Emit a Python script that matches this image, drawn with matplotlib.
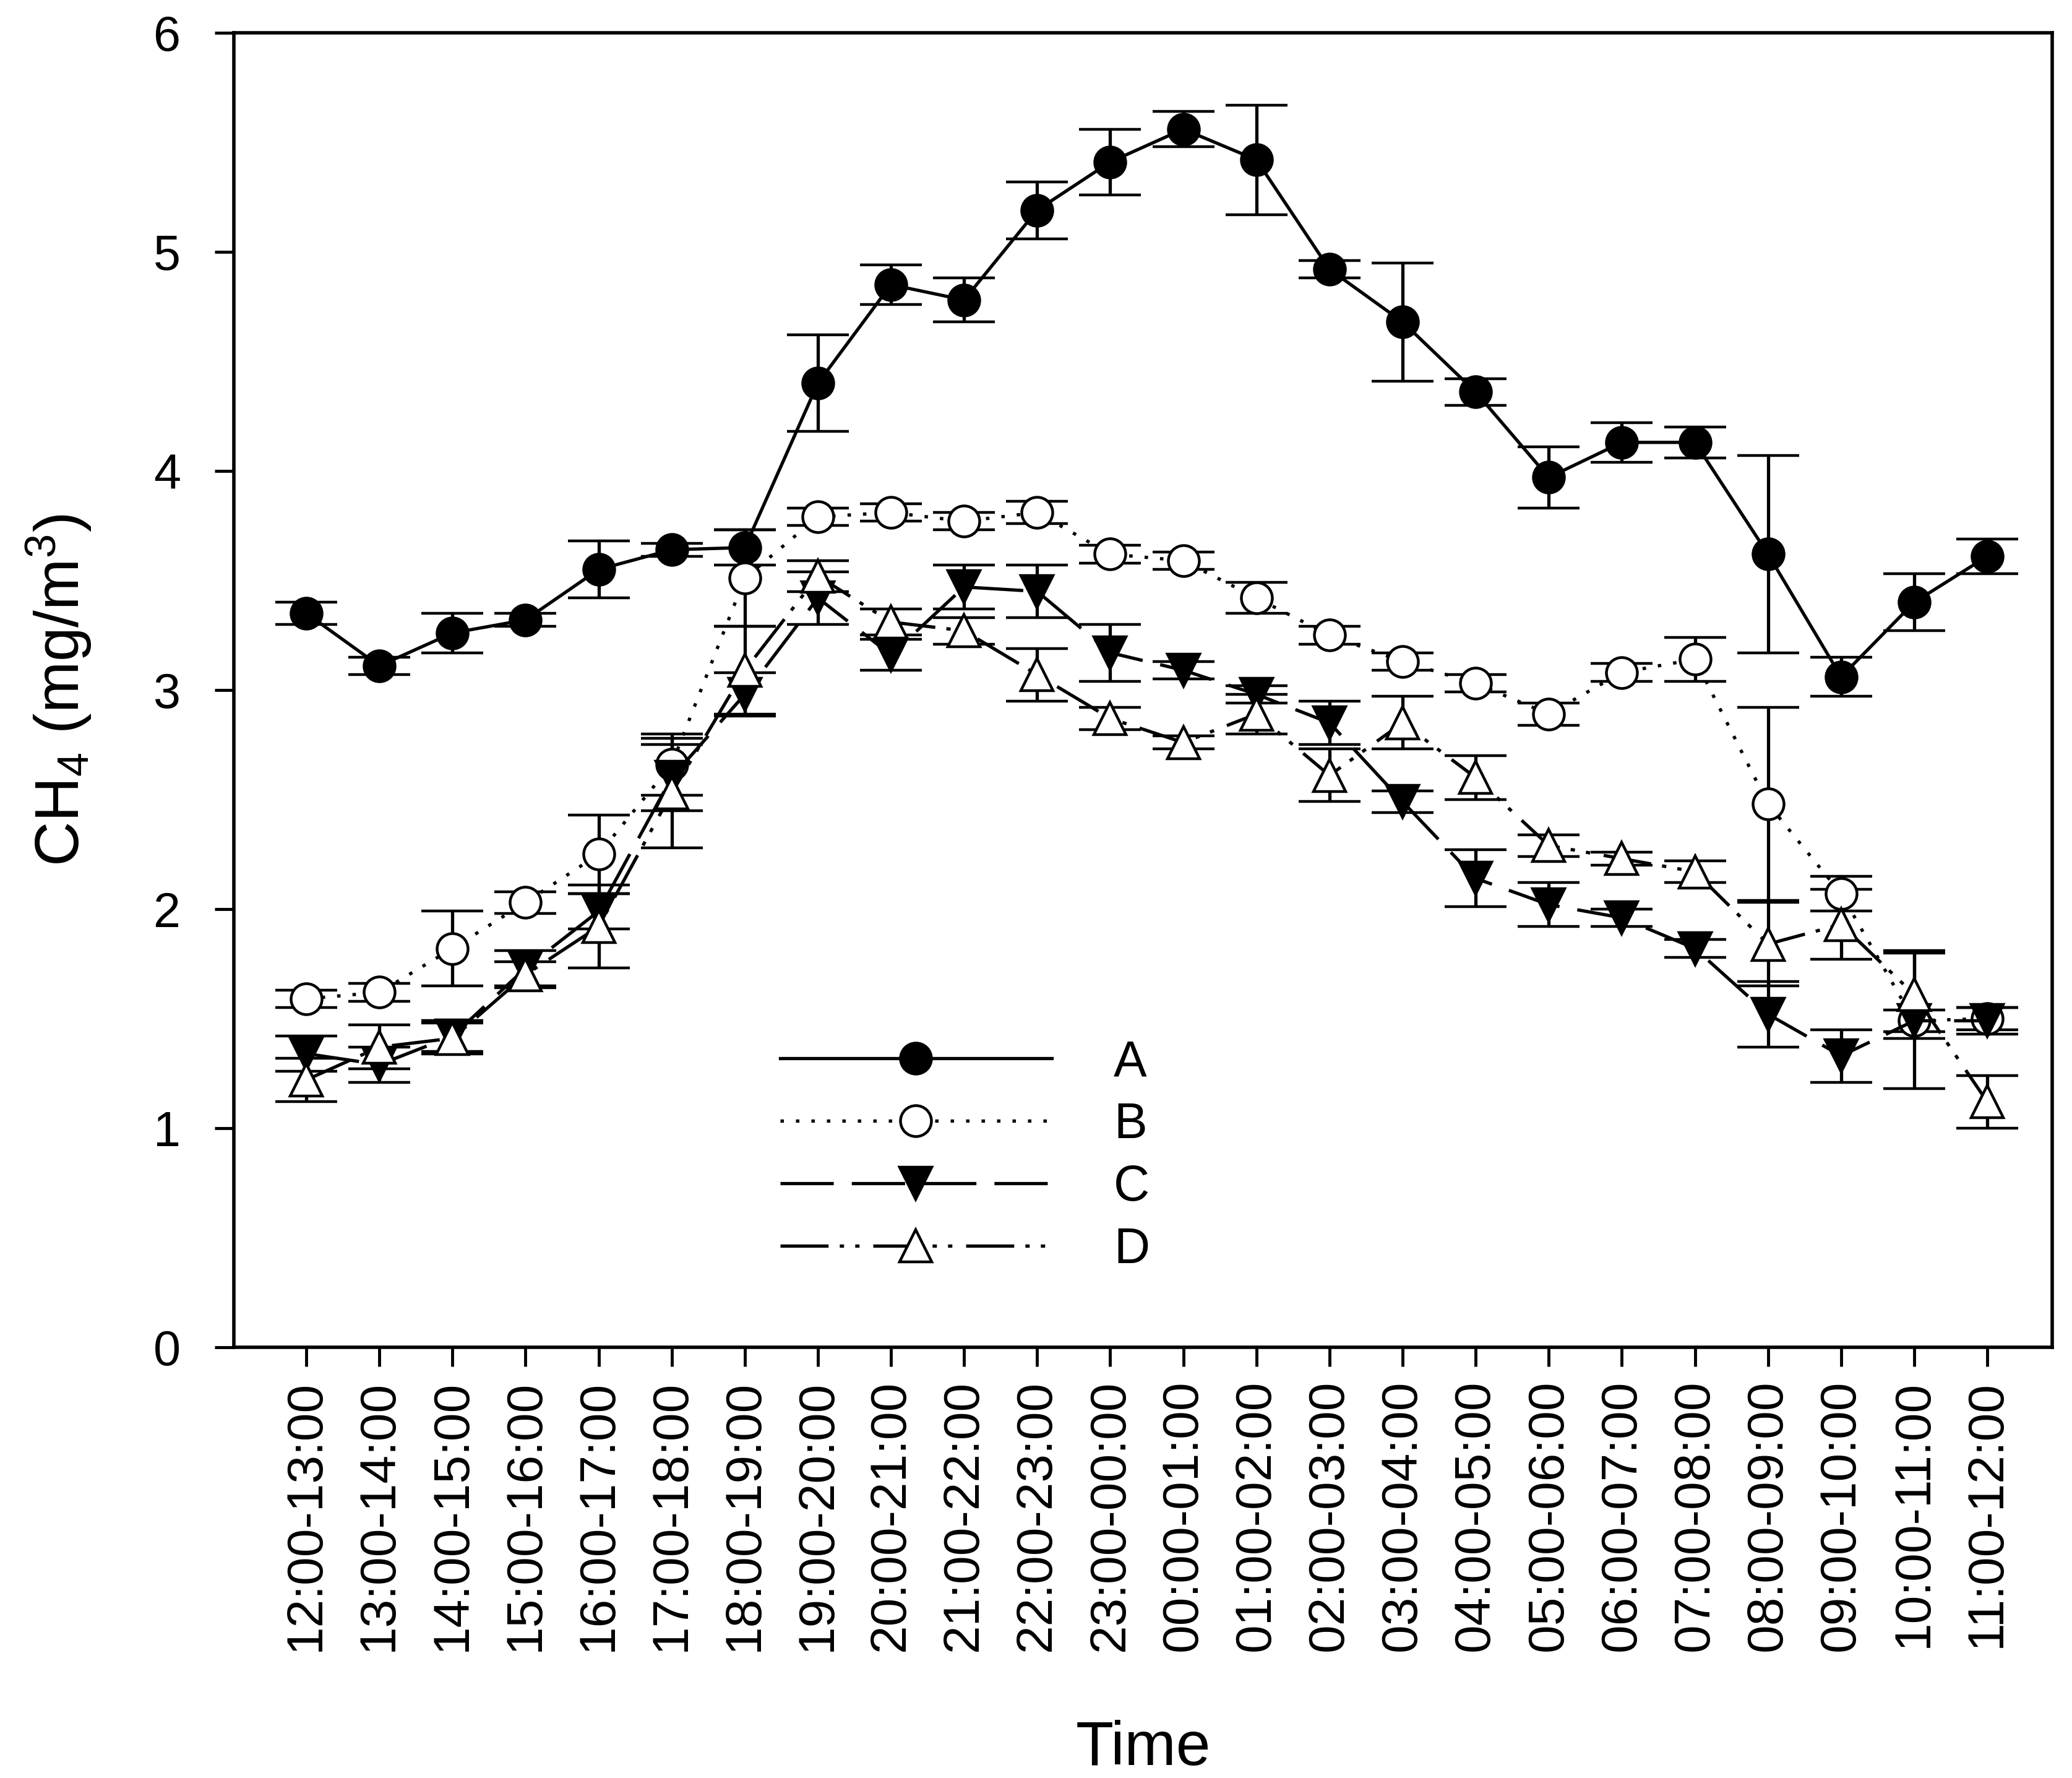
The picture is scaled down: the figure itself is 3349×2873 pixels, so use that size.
import matplotlib
matplotlib.use("Agg")
import matplotlib.pyplot as plt
from matplotlib.lines import Line2D
import numpy as np

plt.rcParams['font.family'] = ['Liberation Sans', 'DejaVu Sans']
plt.rcParams['mathtext.default'] = 'regular'
plt.rcParams['lines.scale_dashes'] = False

time_labels = ["12:00-13:00", "13:00-14:00", "14:00-15:00", "15:00-16:00", "16:00-17:00",
               "17:00-18:00", "18:00-19:00", "19:00-20:00", "20:00-21:00", "21:00-22:00",
               "22:00-23:00", "23:00-00:00", "00:00-01:00", "01:00-02:00", "02:00-03:00",
               "03:00-04:00", "04:00-05:00", "05:00-06:00", "06:00-07:00", "07:00-08:00",
               "08:00-09:00", "09:00-10:00", "10:00-11:00", "11:00-12:00"]

A = [3.35, 3.11, 3.26, 3.32, 3.55, 3.64, 3.65, 4.40, 4.85, 4.78, 5.19, 5.41,
     5.56, 5.42, 4.92, 4.68, 4.36, 3.97, 4.13, 4.13, 3.62, 3.06, 3.40, 3.61]
A_err = [0.05, 0.04, 0.09, 0.03, 0.13, 0.03, 0.08, 0.22, 0.09, 0.10, 0.13, 0.15,
         0.08, 0.25, 0.04, 0.27, 0.06, 0.14, 0.09, 0.07, 0.45, 0.09, 0.13, 0.08]
B = [1.59, 1.62, 1.82, 2.03, 2.25, 2.66, 3.51, 3.79, 3.81, 3.77, 3.81, 3.62,
     3.59, 3.42, 3.25, 3.13, 3.03, 2.89, 3.08, 3.14, 2.48, 2.07, 1.49, 1.50]
B_err = [0.04, 0.04, 0.17, 0.05, 0.18, 0.14, 0.22, 0.04, 0.04, 0.04, 0.05, 0.04,
         0.04, 0.07, 0.04, 0.04, 0.04, 0.05, 0.04, 0.10, 0.44, 0.08, 0.31, 0.05]
C = [1.34, 1.29, 1.42, 1.73, 1.99, 2.60, 2.98, 3.42, 3.16, 3.47, 3.45, 3.17,
     3.09, 2.98, 2.85, 2.49, 2.14, 2.02, 1.96, 1.82, 1.52, 1.33, 1.49, 1.49]
C_err = [0.08, 0.08, 0.07, 0.08, 0.08, 0.15, 0.10, 0.12, 0.07, 0.10, 0.12, 0.13,
         0.04, 0.04, 0.10, 0.05, 0.13, 0.10, 0.04, 0.04, 0.15, 0.12, 0.05, 0.06]
D = [1.22, 1.37, 1.41, 1.70, 1.92, 2.53, 3.09, 3.52, 3.31, 3.27, 3.07, 2.87,
     2.76, 2.89, 2.61, 2.85, 2.60, 2.29, 2.23, 2.17, 1.84, 1.93, 1.61, 1.12]
D_err = [0.10, 0.10, 0.07, 0.06, 0.19, 0.25, 0.20, 0.07, 0.06, 0.06, 0.12, 0.05,
         0.03, 0.09, 0.12, 0.12, 0.10, 0.05, 0.03, 0.05, 0.19, 0.16, 0.20, 0.12]

series_names = ["A", "B", "C", "D"]

fig = plt.figure(figsize=(33.49, 28.73), dpi=100)
ax = fig.add_axes([0.1129, 0.2423, 0.8776, 0.7393])

x = np.arange(len(time_labels))
lw = 3.8
styles = [
    dict(marker='o', mfc='black', ms=36, ls='-'),
    dict(marker='o', mfc='white', ms=36, ls=(0, (4, 14))),
    dict(marker='v', mfc='black', ms=38, ls=(0, (62, 21))),
    dict(marker='^', mfc='white', ms=38, ls=(0, (56, 13, 5, 13, 5, 16))),
]
data = [(A, A_err), (B, B_err), (C, C_err), (D, D_err)]

handles = []
for (vals, errs), st, name in zip(data, styles, series_names):
    ax.errorbar(x, vals, yerr=errs, color='black', linestyle=st['ls'], linewidth=lw,
                marker=st['marker'], markersize=st['ms'], markerfacecolor=st['mfc'],
                markeredgecolor='black', markeredgewidth=3.2,
                ecolor='black', elinewidth=3.8, capsize=36, capthick=3.8)
    handles.append(Line2D([], [], color='black', linestyle=st['ls'], linewidth=lw,
                          marker=st['marker'], markersize=st['ms'],
                          markerfacecolor=st['mfc'], markeredgecolor='black',
                          markeredgewidth=3.2))

ax.set_xlim(-0.99, 23.89)
ax.set_ylim(0, 6)
ax.set_yticks([0, 1, 2, 3, 4, 5, 6])
ax.set_xticks(x)
ax.set_xticklabels(time_labels, rotation=90)

for sp in ax.spines.values():
    sp.set_linewidth(4)

ax.tick_params(axis='both', direction='out', length=22, width=3.5)
ax.tick_params(axis='y', pad=40, labelsize=57)
ax.tick_params(axis='x', pad=16, labelsize=59)

ax.set_xlabel("Time", fontsize=72)
ax.set_ylabel("CH$_4$ (mg/m$^3$)", fontsize=72)
ax.xaxis.label.set_va('center')
ax.yaxis.label.set_va('center')
ax.xaxis.set_label_coords(0.5, -0.3056)
ax.yaxis.set_label_coords(-0.096, 0.5)

leg = ax.legend(handles, series_names, loc='center left', bbox_to_anchor=(6.48, 0.87),
                bbox_transform=ax.transData, frameon=False, fontsize=58,
                handlelength=5.46, handletextpad=1.24, labelspacing=0.31,
                borderpad=0, borderaxespad=0, numpoints=1)

fig.savefig("out.png", dpi=100, facecolor='white')
